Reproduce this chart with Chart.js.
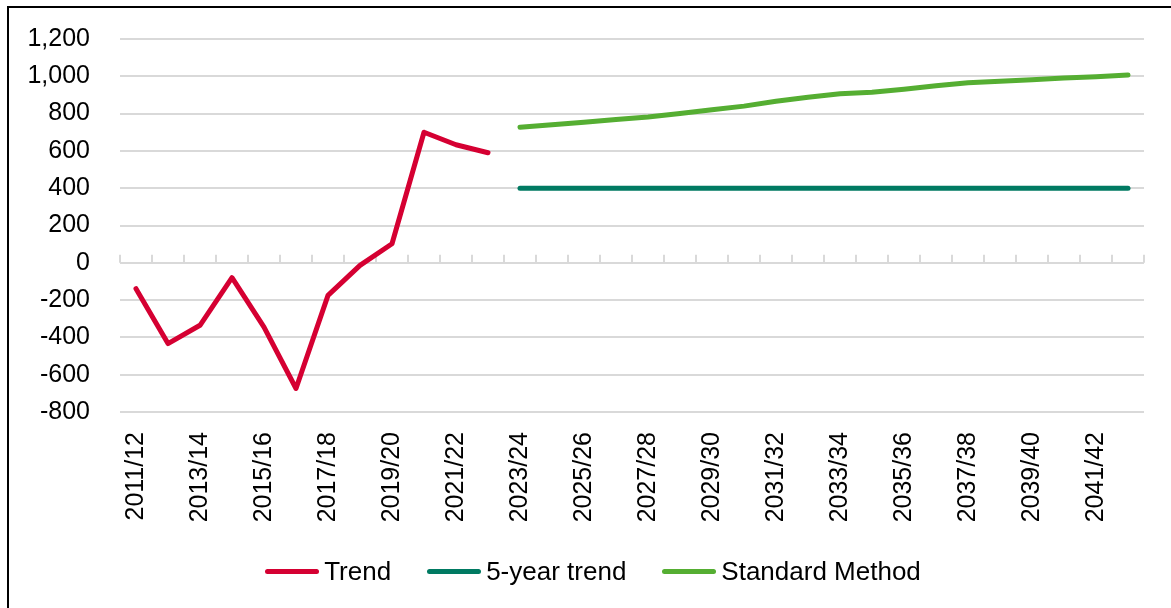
<!DOCTYPE html>
<html>
<head>
<meta charset="utf-8">
<script src="https://cdn.jsdelivr.net/npm/chart.js@4.4.1/dist/chart.umd.min.js"></script>
<style>
  html, body { margin: 0; padding: 0; background: #fff; overflow: hidden; }
  body { width: 1171px; height: 608px; position: relative; font-family: 'Liberation Sans', Arial, sans-serif; }
  #wrap { position: absolute; left: 0; top: 0; width: 1171px; height: 608px; }
  #frame { position: absolute; left: 7px; top: 6px; width: 1200px; height: 640px;
           border-left: 2px solid #000; border-top: 2px solid #000; pointer-events: none; }
  #legend { position: absolute; left: 0; top: 556px; width: 1186px; height: 30px;
            display: flex; justify-content: center; align-items: center; }
  .item { display: flex; align-items: center; margin-right: 36px; font-size: 26px; line-height: 30px; color: #000; }
  .item:last-child { margin-right: 0; }
  .swatch { width: 54px; height: 5px; border-radius: 3px; margin-right: 5px; }
</style>
</head>
<body>
<div id="wrap"><canvas id="chart"></canvas></div>
<div id="frame"></div>
<div id="legend"></div>
<script>
// Financial years on the horizontal axis
const categories = [
  '2011/12','2012/13','2013/14','2014/15','2015/16','2016/17','2017/18','2018/19',
  '2019/20','2020/21','2021/22','2022/23','2023/24','2024/25','2025/26','2026/27',
  '2027/28','2028/29','2029/30','2030/31','2031/32','2032/33','2033/34','2034/35',
  '2035/36','2036/37','2037/38','2038/39','2039/40','2040/41','2041/42','2042/43'
];

// Past trend, 2011/12 to 2022/23
const trendValues = [-139, -433, -335, -80, -345, -674, -175, -14, 102, 700, 633, 590];

// Projections, 2023/24 to 2042/43
const fiveYearValues = [400, 400, 400, 400, 400, 400, 400, 400, 400, 400,
                        400, 400, 400, 400, 400, 400, 400, 400, 400, 400];
const standardMethodValues = [727, 740, 754, 768, 782, 801, 821, 840, 866, 888,
                              906, 915, 931, 949, 965, 973, 982, 991, 998, 1007];

const yTickMin = -800;
const yTickMax = 1200;
const yTickStep = 200;

const projectionStart = trendValues.length;
const pad = (arr, lead) => Array(lead).fill(null).concat(arr);

const FONT = "'Liberation Sans', Arial, sans-serif";

// Small upward tick marks along the zero line at each category boundary
const zeroLineTicks = {
  id: 'zeroLineTicks',
  beforeDatasetsDraw(chart) {
    const { ctx, scales: { x, y } } = chart;
    const y0 = y.getPixelForValue(0);
    const step = x.getPixelForValue(1) - x.getPixelForValue(0);
    const start = x.getPixelForValue(0) - step / 2;
    ctx.save();
    ctx.strokeStyle = '#d9d9d9';
    ctx.lineWidth = 2;
    for (let i = 0; i <= categories.length; i++) {
      const px = Math.round(start + i * step);
      ctx.beginPath();
      ctx.moveTo(px, y0);
      ctx.lineTo(px, y0 - 8);
      ctx.stroke();
    }
    ctx.restore();
  }
};

const lineStyle = { borderWidth: 5, pointRadius: 0, pointHoverRadius: 0, tension: 0,
                    borderCapStyle: 'round', borderJoinStyle: 'round', fill: false };

const chart = new Chart(document.getElementById('chart'), {
  type: 'line',
  data: {
    labels: categories,
    datasets: [
      { label: 'Trend', data: trendValues, borderColor: '#d50032', backgroundColor: '#d50032', ...lineStyle },
      { label: '5-year trend', data: pad(fiveYearValues, projectionStart), borderColor: '#007a62', backgroundColor: '#007a62', ...lineStyle },
      { label: 'Standard Method', data: pad(standardMethodValues, projectionStart), borderColor: '#55ae32', backgroundColor: '#55ae32', ...lineStyle }
    ]
  },
  options: {
    responsive: true,
    maintainAspectRatio: false,
    animation: false,
    events: [],
    layout: { padding: { top: 39, right: 27, bottom: 0, left: 0 } },
    plugins: {
      tooltip: { enabled: false },
      legend: { display: false }
    },
    scales: {
      x: {
        offset: true,
        grid: { display: false, drawTicks: false, offset: true },
        border: { display: false },
        afterFit(scale) {
          scale.height = 196;
          scale.paddingLeft = 0;
          scale.paddingRight = 0;
        },
        ticks: {
          autoSkip: false,
          minRotation: 90,
          maxRotation: 90,
          padding: 20,
          color: '#000',
          font: { family: FONT, size: 25 },
          callback: (v, i) => (i % 2 === 0 ? categories[i] : '')
        }
      },
      y: {
        min: yTickMin,
        max: yTickMax,
        grid: { color: '#d9d9d9', lineWidth: 2, drawTicks: false },
        border: { display: false },
        afterFit(scale) {
          scale.width = 120;
          scale.paddingTop = 0;
          scale.paddingBottom = 0;
        },
        ticks: {
          stepSize: yTickStep,
          autoSkip: false,
          padding: 30,
          color: '#000',
          font: { family: FONT, size: 25 },
          callback: (v) => Number(v).toLocaleString('en-US')
        }
      }
    }
  },
  plugins: [zeroLineTicks]
});

// Legend built from the chart's own datasets
const legendEl = document.getElementById('legend');
chart.data.datasets.forEach((ds) => {
  const item = document.createElement('div');
  item.className = 'item';
  const swatch = document.createElement('span');
  swatch.className = 'swatch';
  swatch.style.background = ds.borderColor;
  const text = document.createElement('span');
  text.textContent = ds.label;
  item.appendChild(swatch);
  item.appendChild(text);
  legendEl.appendChild(item);
});
</script>
</body>
</html>
